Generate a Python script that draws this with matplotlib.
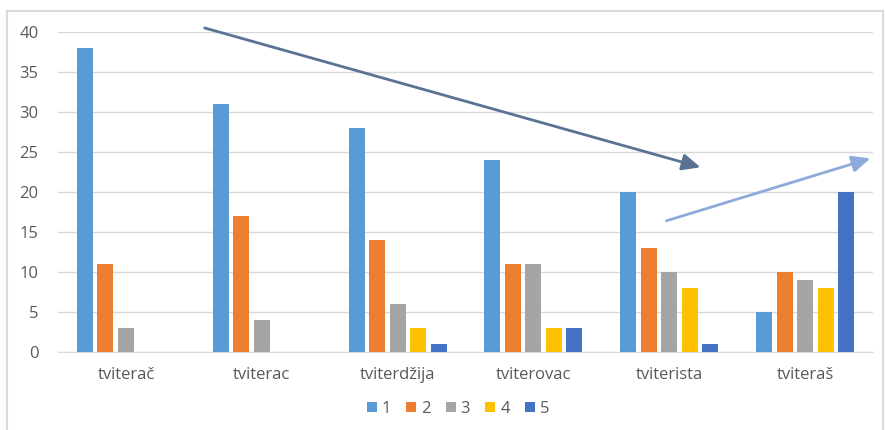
import matplotlib
matplotlib.use("Agg")
import matplotlib.pyplot as plt
from matplotlib.patches import Rectangle
import numpy as np

plt.rcParams['font.family'] = ['Open Sans', 'DejaVu Sans']

categories = ["tviterač", "tviterac", "tviterdžija", "tviterovac", "tviterista", "tviteraš"]
series_names = ["1", "2", "3", "4", "5"]
s1 = [38, 31, 28, 24, 20, 5]
s2 = [11, 17, 14, 11, 13, 10]
s3 = [3, 4, 6, 11, 10, 9]
s4 = [0, 0, 3, 3, 8, 8]
s5 = [0, 0, 1, 3, 1, 20]
series = [s1, s2, s3, s4, s5]
colors = ["#5B9BD5", "#ED7D31", "#A5A5A5", "#FFC000", "#4472C4"]

fig = plt.figure(figsize=(8.85, 4.3), dpi=100)
ax = fig.add_axes([58 / 885, 1 - 352 / 430, 815 / 885, 320 / 430])

# light frame around the whole chart
fig.patches.append(Rectangle((7 / 885, -5 / 430), 876 / 885, 424 / 430,
                             transform=fig.transFigure, fill=False,
                             edgecolor="#d9d9d9", linewidth=1.5))

x = np.arange(len(categories))
step = 0.151
width = 0.118
for i, (vals, name, col) in enumerate(zip(series, series_names, colors)):
    ax.bar(x + (i - 2) * step, vals, width, color=col, label=name, zorder=3)

ax.set_xlim(-0.5, len(categories) - 0.5)
ax.set_ylim(0, 40)
ax.set_yticks(range(0, 41, 5))
ax.set_xticks(x)
ax.set_xticklabels(categories)
ax.tick_params(axis='both', length=0, labelsize=12, colors="#595959")
ax.tick_params(axis='x', pad=11)
ax.tick_params(axis='y', pad=14)
ax.grid(axis='y', color="#d9d9d9", linewidth=1, zorder=0)
for side in ["left", "right", "top"]:
    ax.spines[side].set_visible(False)
ax.spines["bottom"].set_color("#d9d9d9")

# trend arrows
ax.annotate("", xy=(4.25, 23), xytext=(0.56, 40.6),
            arrowprops=dict(arrowstyle="-|>,head_length=1.1,head_width=0.5",
                            color="#5a7394", lw=2),
            annotation_clip=False, zorder=5)
ax.annotate("", xy=(5.5, 24.3), xytext=(3.96, 16.3),
            arrowprops=dict(arrowstyle="-|>,head_length=1.1,head_width=0.5",
                            color="#8eaadb", lw=2),
            annotation_clip=False, zorder=5)

fig.legend(loc="center", bbox_to_anchor=(458 / 885, 1 - 409 / 430), ncol=5,
           frameon=False, fontsize=12, handlelength=0.6, handleheight=0.6,
           handletextpad=0.3, columnspacing=0.9, labelcolor="#595959")

fig.savefig("out.png", dpi=100)
